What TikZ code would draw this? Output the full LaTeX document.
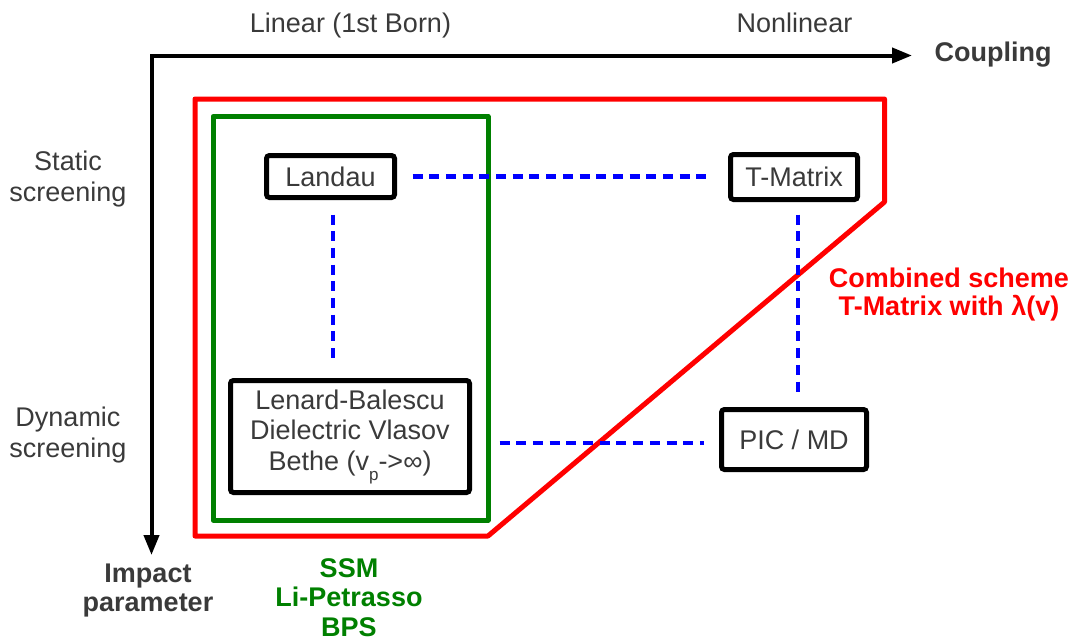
\documentclass[tikz,border=0pt]{standalone}
\usepackage{fontspec}
\setmainfont{Liberation Sans}
\usetikzlibrary{arrows.meta}
\definecolor{txtgray}{HTML}{3A3A3A}
\definecolor{schemered}{HTML}{FF0000}
\definecolor{ssmgreen}{HTML}{008000}
\definecolor{linkblue}{HTML}{0000FF}
\begin{document}
\begin{tikzpicture}[x=1pt,y=-1pt,
  every node/.style={font=\fontsize{27}{30.5}\selectfont, text=txtgray, inner sep=0pt},
  axislabel/.style={font=\bfseries\fontsize{27}{29}\selectfont, align=center},
  method/.style={draw=black, line width=5pt, rounded corners=3pt, align=center},
  link/.style={draw=linkblue, line width=4.5pt, dash pattern=on 10pt off 6.7pt},
  axis/.style={line width=4pt, line join=miter,
    {Triangle[length=20pt,width=15pt]}-{Triangle[length=20pt,width=15pt]}},
  region/.style={line width=5pt, line join=round},
]
\useasboundingbox (0,0) rectangle (1074,641);

% axes: coupling to the right, impact parameter downwards
\coordinate (origin) at (151.5,55.5);
\coordinate (xtip) at (912,55.5);
\coordinate (ytip) at (151.5,555);
\draw[axis] (xtip) -- (origin) -- (ytip);

% axis labels (multi-line nodes are placed by the baseline of their last line)
\node[anchor=base] (linear) at (350.5,32) {Linear (1st Born)};
\node[anchor=base] (nonlinear) at (794.5,32) {Nonlinear};
\node[axislabel, anchor=base] (coupling) at (993,61) {Coupling};
\node[anchor=base, align=center] (static) at (68,201) {Static\\screening};
\node[anchor=base, align=center] (dynamic) at (68,457) {Dynamic\\screening};
\node[axislabel, anchor=base] (impact) at (148,611) {Impact\\parameter};

% regions of validity
\draw[region, schemered] (195,99) -- (884.5,99) -- (884.5,202) -- (488,536) -- (195,536) -- cycle;
\draw[region, ssmgreen] (213,116.5) rectangle (488,520);

\node[axislabel, text=schemered, anchor=base,
      font=\bfseries\fontsize{27}{28}\selectfont] (combined) at (949,315)
  {Combined scheme\\T-Matrix with λ(v)};
\node[axislabel, text=ssmgreen, anchor=base,
      font=\bfseries\fontsize{27}{29.5}\selectfont] (ssm) at (349,636)
  {SSM\\Li-Petrasso\\BPS};

% methods
\node[method, minimum width=128pt, minimum height=42pt] (landau) at (330.5,176.5) {Landau};
\node[method, minimum width=127pt, minimum height=45pt] (tmatrix) at (794,177) {T-Matrix};
\node[method, minimum width=239pt, minimum height=112pt] (lenard) at (350,436.5)
  {Lenard-Balescu\\Dielectric Vlasov\\Bethe (v\raisebox{-10pt}{\fontsize{17}{17}\selectfont p}->∞)};
\node[method, minimum width=145pt, minimum height=60pt] (pic) at (794,439.5) {PIC / MD};

% links between methods
\draw[link, shorten <=15.5pt, shorten >=18.5pt] (landau.east) -- (landau.east -| tmatrix.west);
\draw[link, shorten <=14.5pt, shorten >=15.5pt]
  ([xshift=2.5pt]landau.south) -- ([xshift=2.5pt]landau.south |- lenard.north);
\draw[link, shorten <=12.5pt, shorten >=13.5pt]
  ([xshift=4pt]tmatrix.south) -- ([xshift=4pt]tmatrix.south |- pic.north);
\draw[link, shorten <=27.5pt, shorten >=15.5pt]
  ([yshift=-3.5pt]lenard.east |- pic.west) -- ([yshift=-3.5pt]pic.west);
\end{tikzpicture}
\end{document}
